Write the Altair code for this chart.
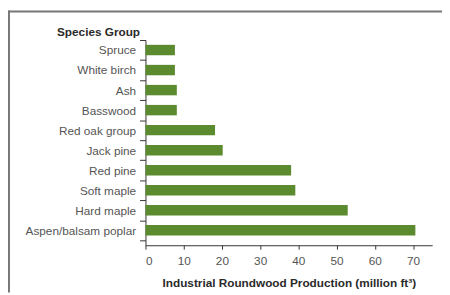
import altair as alt
import pandas as pd

species = ["Spruce", "White birch", "Ash", "Basswood", "Red oak group",
           "Jack pine", "Red pine", "Soft maple", "Hard maple", "Aspen/balsam poplar"]
production = [7.7, 7.7, 8.2, 8.2, 18.2, 20.2, 38.1, 39.2, 52.9, 70.6]
x_ticks = [0, 10, 20, 30, 40, 50, 60, 70]

df = pd.DataFrame({"species": species, "production": production})

FONT = "Liberation Sans"
GREEN = "#5b8a2f"
PI = 0.48
STEP = 20.4
HALF_GAP = PI * STEP / 2

bars = alt.Chart(df).mark_bar(color=GREEN).encode(
    x=alt.X("production:Q",
            scale=alt.Scale(domain=[0, 75], nice=False),
            axis=alt.Axis(values=x_ticks, grid=False,
                          title="Industrial Roundwood Production (million ft³)",
                          titleFont=FONT, titleFontSize=12, titleFontWeight="bold",
                          titleColor="#2a2a2a", titleBaseline="alphabetic", titleY=42,
                          labelFont=FONT, labelFontSize=12, labelColor="#555",
                          labelPadding=7, tickSize=4, domainColor="#333",
                          tickColor="#333")),
    y=alt.Y("species:N", sort=species,
            scale=alt.Scale(paddingInner=PI, paddingOuter=0.3625, align=0.33),
            axis=alt.Axis(title="Species Group", titleAngle=0, titleAlign="right",
                          titleBaseline="alphabetic", titleX=-6, titleY=-4.5,
                          titleFont=FONT, titleFontSize=12, titleFontWeight="bold",
                          titleColor="#2a2a2a",
                          labelFont=FONT, labelFontSize=12, labelColor="#555",
                          labelPadding=4, tickSize=6,
                          bandPosition=1 + PI / (1 - PI), tickExtra=True,
                          tickOffset=-HALF_GAP, labelOffset=HALF_GAP,
                          domainColor="#333", tickColor="#333")),
)

frame_df = pd.DataFrame({"k": [0]})
top_line = alt.Chart(frame_df).mark_rule(color="#777", strokeWidth=2).encode(
    x=alt.value(-140), x2=alt.value(302), y=alt.value(-29))
left_line = alt.Chart(frame_df).mark_rule(color="#777", strokeWidth=2).encode(
    x=alt.value(-139), y=alt.value(-30), y2=alt.value(257))

chart = alt.layer(bars, top_line, left_line).properties(
    width=292, height=209,
    autosize=alt.AutoSizeParams(type="none"),
    padding={"left": 140, "top": 30, "right": 10, "bottom": 46},
).configure_view(stroke=None)

chart.save("out.html", embed_options={"renderer": "svg", "actions": False})
